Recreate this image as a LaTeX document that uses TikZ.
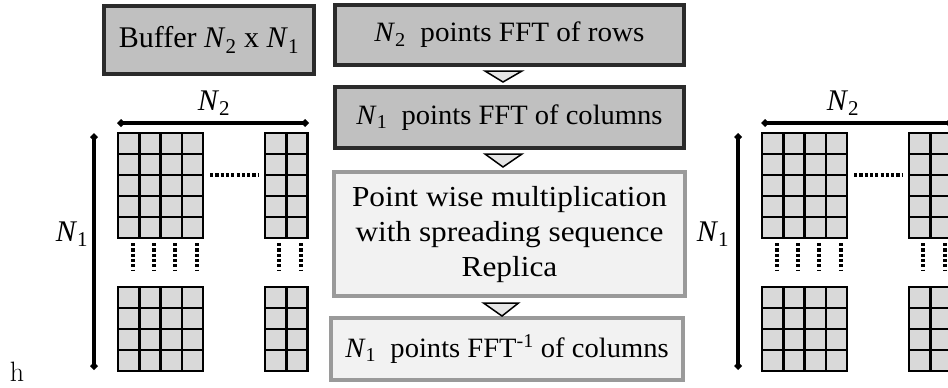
\documentclass[tikz,border=0pt]{standalone}
\usepackage{fontspec}
\usepackage{graphicx}
\setmainfont{Liberation Serif}
\usetikzlibrary{arrows.meta,calc}
\definecolor{darkfill}{HTML}{C0C0C0}
\definecolor{darkedge}{HTML}{2B2B2B}
\definecolor{lightfill}{HTML}{F2F2F2}
\definecolor{lightedge}{HTML}{9A9A9A}
\definecolor{cellfill}{HTML}{D9D9D9}
\definecolor{trifill}{HTML}{E6E6E6}
\newcommand{\Nn}[1]{\textit{N}\textsubscript{#1}}
\newcommand{\gblock}[4]{%
  \fill[cellfill] (#1,#2) rectangle ++(#3*21.25,#4*21);
  \foreach \i in {0,...,#3} \draw[gridline] (#1+\i*21.25,#2) -- ++(0,#4*21);
  \foreach \j in {0,...,#4} \draw[gridline] (#1,#2+\j*21) -- ++(#3*21.25,0);
}
\newcommand{\matrixpart}{%
  \gblock{118}{133}{4}{5}
  \gblock{265}{133}{2}{5}
  \gblock{118}{287}{4}{4}
  \gblock{265}{287}{2}{4}
  \draw[dotsline] (210,175) -- (258,175);
  \foreach \xx in {133,154,175,197,279,301} \draw[dotsline] (\xx,243) -- (\xx,271);
  \coordinate (h1) at (117,123); \coordinate (h2) at (309,123);
  \draw[dim] (h1) -- (h2);
  \coordinate (v1) at (94,133); \coordinate (v2) at (94,370);
  \draw[dim] (v1) -- (v2);
}
\begin{document}
\begin{tikzpicture}[x=1pt,y=-1pt,
  txt/.style={font=\fontsize{28}{34}\selectfont},
  darkbox/.style={txt, draw=darkedge, fill=darkfill, line width=4pt, inner sep=0pt},
  lightbox/.style={txt, draw=lightedge, fill=lightfill, line width=4pt, inner sep=0pt, align=center},
  tri/.style={draw=black, fill=trifill, line width=1.5pt, line join=miter},
  dim/.style={line width=3.5pt, {Diamond[length=8pt,width=8pt]}-{Diamond[length=8pt,width=8pt]}},
  dotsline/.style={line width=3.5pt, dash pattern=on 3.2pt off 2.1pt},
  gridline/.style={line width=2.5pt, line cap=rect, draw=black},
  lbl/.style={font=\fontsize{30}{34}\selectfont, inner sep=0pt}
]
\useasboundingbox (0,0) rectangle (948,388);
\clip (0,0) rectangle (948,388);

% boxes
\node[darkbox, font=\fontsize{30}{34}\selectfont, minimum width=210, minimum height=68] (buf) at (209,40) {Buffer \Nn{2} x \Nn{1}};
\node[darkbox, minimum width=349, minimum height=60] (rows) at (509.5,35) {\scalebox{1.04}[1]{\Nn{2}\ \ points FFT of rows}};
\node[darkbox, minimum width=349, minimum height=61] (cols) at (509.5,117.5) {\scalebox{1.02}[1]{\Nn{1}\ \ points FFT of columns}};
\node[lightbox, font=\fontsize{29}{35}\selectfont, minimum width=351, minimum height=124] (mult) at (509.5,234) {\scalebox{1.08}[1]{\begin{tabular}{@{}c@{}}Point wise multiplication\\with spreading sequence\\Replica\end{tabular}}};
\node[lightbox, minimum width=352, minimum height=62] (ifft) at (507,349) {\scalebox{1.02}[1]{\Nn{1}\ \ points FFT\textsuperscript{-1} of columns}};

% triangles between boxes
\draw[tri] ($(rows.south)+(-24.5,4)$) -- ($(rows.south)+(12.5,4)$) -- ($(cols.north)+(-6.5,-3)$) -- cycle;
\draw[tri] ($(cols.south)+(-24.5,4)$) -- ($(cols.south)+(12.5,4)$) -- ($(mult.north)+(-6.5,-3)$) -- cycle;
\draw[tri] ($(mult.south)+(-26,5)$) -- ($(mult.south)+(9,5)$) -- ($(ifft.north)+(-5,0)$) -- cycle;

% left matrix
\matrixpart
\node[lbl] (n2left) at (214,103) {\Nn{2}};
\node[lbl] (n1left) at (72,234) {\Nn{1}};
\node[font=\fontfamily{lmr}\fontsize{28}{30}\selectfont, inner sep=0pt] (hchar) at (17,372) {h};

% right matrix
\begin{scope}[xshift=644]
\matrixpart
\end{scope}
\node[lbl] (n2right) at (843,103) {\Nn{2}};
\node[lbl] (n1right) at (713,234) {\Nn{1}};
\end{tikzpicture}
\end{document}
